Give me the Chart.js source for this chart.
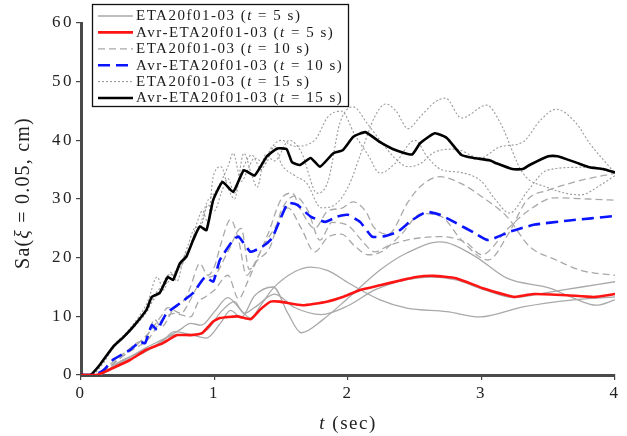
<!DOCTYPE html>
<html><head><meta charset="utf-8">
<script src="https://cdn.jsdelivr.net/npm/chart.js@4/dist/chart.umd.min.js"></script>
<style>html,body{margin:0;padding:0;background:#fff;}</style>
</head><body>
<canvas id="c" width="627" height="436"></canvas>
<script>
// ---- data (t in sec, Sa in cm) ----
const xTicks = [0, 1, 2, 3, 4];
const yTicks = [0, 10, 20, 30, 40, 50, 60];

// t = 5 s records (solid gray) and average (red)
const tS1 = [0,0.12,0.3,0.5,0.65,0.74,0.82,0.9,1.0,1.1,1.2,1.27,1.35,1.44,1.6,1.72,1.85,2.01,2.24,2.44,2.74,2.99,3.31,3.69,4.0];
const yS1 = [0,0,2.2,4.8,6.5,7.7,8.8,8.5,10.8,13.2,11,9.7,12,14.8,17.6,18.4,17.8,15.6,12.8,11.4,10.8,9.9,11.6,12.8,13.3];
const tS2 = [0,0.12,0.3,0.5,0.6,0.7,0.8,0.94,1.05,1.12,1.2,1.3,1.44,1.55,1.65,1.81,2.01,2.24,2.44,2.69,2.94,3.19,3.51,3.69,3.86,4.0];
const yS2 = [0,0,2.4,4.4,5.5,7.4,7,6.3,9,11,9.8,13.5,15,10.5,7.2,9.4,13.3,17.9,20.8,22.7,20.4,16.5,14.8,13.1,11.9,12.8];
const tS3 = [0,0.12,0.3,0.5,0.7,0.85,0.95,1.05,1.15,1.22,1.3,1.45,1.6,1.8,2.0,2.2,2.39,2.64,2.81,3.01,3.25,3.5,3.75,4.0];
const yS3 = [0,0,2,4.2,6.8,6.9,7.8,10.8,12.5,10.5,11.5,13.8,11.5,10.3,11.8,14.5,16,16.7,16.2,14.6,13.2,14.1,15,15.9];
const tAvg5 = [0,0.12,0.24,0.37,0.49,0.61,0.72,0.82,0.91,0.99,1.04,1.17,1.27,1.34,1.42,1.49,1.66,1.84,1.96,2.09,2.24,2.39,2.51,2.64,2.81,3.01,3.19,3.25,3.39,3.64,3.84,4.0];
const yAvg5 = [0,0,1.2,2.6,4.3,5.4,6.8,6.8,7.2,9.1,9.7,10.0,9.5,11.1,12.5,12.5,11.9,12.5,13.3,14.5,15.3,16.1,16.7,16.9,16.5,14.8,13.6,13.3,13.8,13.6,13.3,13.8];

// t = 10 s records (dashed gray) and average (blue)
const tD1 = [0,0.1,0.2,0.3,0.4,0.5,0.55,0.6,0.7,0.78,0.82,0.89,0.95,1.0,1.05,1.12,1.18,1.24,1.3,1.4,1.5,1.58,1.65,1.75,1.85,1.95,2.04,2.14,2.19,2.3,2.45,2.54,2.69,2.84,3.04,3.19,3.36,3.56,3.75,4.0];
const yD1 = [0,0,1.5,3.3,5.2,6.8,9.5,8.2,11.5,13,15,19,17,18.5,22.5,26.5,23,17,19,24,30,31,28,25,28,28.4,29.5,27.6,25.3,24,29.5,32.1,33.8,32.7,29.8,27,21.9,19.6,17.8,17];
const tD2 = [0,0.1,0.2,0.3,0.4,0.5,0.6,0.7,0.82,0.88,0.93,1.0,1.1,1.18,1.25,1.35,1.45,1.55,1.65,1.75,1.85,1.95,2.05,2.15,2.25,2.4,2.55,2.7,2.85,3.05,3.2,3.34,3.5,3.75,4.0];
const yD2 = [0,0,1,3,4.5,6,9.2,10.5,9.9,12.5,13.3,14.5,17,13,16,21.3,25,28.5,25,21,23.5,24,22,20.5,21,24,27.5,27,23,19.6,24,29.8,31.5,33.2,34.4];
const tD3 = [0,0.1,0.2,0.3,0.4,0.5,0.6,0.65,0.75,0.8,0.87,0.93,1.0,1.1,1.2,1.26,1.32,1.42,1.5,1.6,1.7,1.79,1.88,2.0,2.1,2.2,2.3,2.44,2.69,2.89,3.0,3.2,3.35,3.55,3.8,4.0];
const yD3 = [0,0,1.2,3,4.8,7,10,11.5,10.5,12,15,16.5,17,21,25,18,19.5,22,28,30.5,28,23,26,25.5,23,21,22,23,23.6,22.5,20.5,25,28,30.2,30,29.8];
const tAvg10 = [0,0.1,0.17,0.24,0.37,0.44,0.48,0.53,0.57,0.64,0.74,0.84,0.93,0.99,1.04,1.14,1.18,1.27,1.36,1.43,1.49,1.55,1.62,1.72,1.83,1.92,2.0,2.09,2.18,2.26,2.37,2.48,2.59,2.69,2.81,2.94,3.05,3.21,3.39,3.64,4.0];
const yAvg10 = [0,0,0.85,2.6,4.3,5.7,5.4,8.5,7.7,10.5,12.2,14,16.7,15.9,19.6,23,23.6,21,21.9,23.3,26.4,29.3,29,27,26.1,27,27.3,26.1,23.6,23.6,24.4,26.4,27.8,27.3,25.9,24.3,23,24.4,25.6,26.3,27.1];

// t = 15 s records (dotted gray) and average (black)
const tT1 = [0,0.08,0.15,0.25,0.35,0.45,0.5,0.57,0.62,0.67,0.72,0.77,0.82,0.87,0.91,0.95,0.99,1.05,1.1,1.15,1.22,1.28,1.32,1.38,1.45,1.56,1.65,1.77,1.85,1.94,2.04,2.14,2.24,2.35,2.45,2.54,2.65,2.8,2.99,3.14,3.31,3.44,3.56,3.71,3.81,4.0];
const yT1 = [0,0,2,5.2,7.5,10.5,12.5,16.7,14.5,17.5,16,20,22,26,28,26,33.8,35.5,32,30,37.8,34,32,37.5,36.5,40,38,31,33,43,45.7,43,40,37,35.5,36,38,38.5,37,38.9,39.7,43.4,45.3,42.9,39.5,34.4];
const tT2 = [0,0.08,0.15,0.25,0.35,0.45,0.5,0.55,0.6,0.65,0.7,0.75,0.8,0.85,0.9,0.94,1.0,1.05,1.1,1.14,1.2,1.25,1.3,1.38,1.45,1.5,1.6,1.69,1.8,1.9,2.0,2.1,2.2,2.28,2.36,2.45,2.54,2.65,2.73,2.85,3.04,3.14,3.31,3.49,3.74,3.9,4.0];
const yT2 = [0,0,1.5,4.8,7,9.5,11,13.5,15,15.8,17.5,18.5,21,24,26,29.3,31,33,35.5,37.8,33,35,37,36,39,36,34,32.7,28.5,29,32,38,44,46.2,45,42,44,46.5,47.2,43.8,46,43,34.4,32,30.7,32.5,34];
const tT3 = [0,0.08,0.15,0.25,0.35,0.45,0.5,0.55,0.6,0.65,0.7,0.75,0.8,0.85,0.9,0.95,1.0,1.05,1.1,1.15,1.2,1.28,1.35,1.42,1.5,1.6,1.75,1.85,1.95,2.05,2.15,2.24,2.35,2.5,2.6,2.7,2.85,3.0,3.1,3.21,3.35,3.49,3.75,4.0];
const yT3 = [0,0,1.8,5,7.2,10,11.5,13,14.8,17,17.2,19,22,25,25.5,29,28,31,33.5,31,34.5,37.5,35,38.5,40,39,40,44,45,41,37.5,34.4,36,40,37,35,34.5,33,30,27.6,31.5,34.9,35.4,34.6];
const tAvg15 = [0,0.07,0.14,0.24,0.32,0.39,0.49,0.53,0.59,0.65,0.69,0.74,0.79,0.84,0.89,0.94,0.99,1.06,1.14,1.22,1.30,1.39,1.47,1.54,1.58,1.64,1.72,1.79,1.89,1.96,2.04,2.13,2.24,2.36,2.48,2.54,2.65,2.74,2.85,2.94,3.06,3.11,3.23,3.31,3.36,3.50,3.57,3.71,3.81,3.91,4.0];
const yAvg15 = [0,0,1.7,4.8,6.5,8.2,11.1,13.3,14,16.7,16.2,19,20.2,23,25.3,24.7,29.8,32.9,31.2,34.9,34,37.2,38.6,38.5,36.3,35.8,37,35.5,37.8,38.3,40.6,41.4,39.7,38.3,37.6,39.5,41.2,40.4,37.5,37,36.6,36.1,35.1,35.1,35.8,37.3,37.3,36.2,35.4,35.1,34.5];

// legend text: [before italic, italic, after]
const legendText = [
  ["ETA20f01-03 (", "t", " = 5 s)"],
  ["Avr-ETA20f01-03 (", "t", " = 5 s)"],
  ["ETA20f01-03 (", "t", " = 10 s)"],
  ["Avr-ETA20f01-03 (", "t", " = 10 s)"],
  ["ETA20f01-03 (", "t", " = 15 s)"],
  ["Avr-ETA20f01-03 (", "t", " = 15 s)"]
];

// ---- styles ----
const pts = (t, y) => t.map((x, i) => ({x: x, y: y[i]}));
const GRAY_SOLID = {borderColor: '#a9a9a9', borderWidth: 1.3, borderDash: []};
const GRAY_DASH = {borderColor: '#a9a9a9', borderWidth: 1.3, borderDash: [7, 4]};
const GRAY_DOT = {borderColor: '#9a9a9a', borderWidth: 1.1, borderDash: [2, 2]};
const RED = {borderColor: '#ff1414', borderWidth: 2.6, borderDash: []};
const BLUE = {borderColor: '#0a14ff', borderWidth: 2.6, borderDash: [12, 6]};
const BLACK = {borderColor: '#000000', borderWidth: 2.6, borderDash: []};
const legendStyles = [GRAY_SOLID, RED, GRAY_DASH, BLUE, GRAY_DOT, BLACK];

function grayDs(t, y, st) {
  return Object.assign({data: pts(t, y), order: 2, tension: 0.35, cubicInterpolationMode: 'monotone'}, st);
}
function avgDs(t, y, st) {
  return Object.assign({data: pts(t, y), order: 1, tension: 0.15}, st);
}

const datasets = [
  grayDs(tS1, yS1, GRAY_SOLID), grayDs(tS2, yS2, GRAY_SOLID), grayDs(tS3, yS3, GRAY_SOLID),
  grayDs(tD1, yD1, GRAY_DASH), grayDs(tD2, yD2, GRAY_DASH), grayDs(tD3, yD3, GRAY_DASH),
  grayDs(tT1, yT1, GRAY_DOT), grayDs(tT2, yT2, GRAY_DOT), grayDs(tT3, yT3, GRAY_DOT),
  avgDs(tAvg5, yAvg5, RED), avgDs(tAvg10, yAvg10, BLUE), avgDs(tAvg15, yAvg15, BLACK)
];

const SERIF = '"Liberation Serif", "Times New Roman", serif';

function drawParts(ctx, parts, x, y, size, spacing, align) {
  const fonts = [size + 'px ' + SERIF, 'italic ' + size + 'px ' + SERIF, size + 'px ' + SERIF];
  ctx.letterSpacing = spacing + 'px';
  let widths = parts.map((p, i) => { ctx.font = fonts[i]; return ctx.measureText(p).width; });
  let total = widths.reduce((a, b) => a + b, 0);
  let cx = align === 'center' ? x - total / 2 : x;
  ctx.textAlign = 'left';
  parts.forEach((p, i) => { ctx.font = fonts[i]; ctx.fillText(p, cx, y); cx += widths[i]; });
}

const decor = {
  id: 'decor',
  beforeDraw(chart) { chart.ctx.letterSpacing = '2.5px'; },
  afterDraw(chart) {
    const ctx = chart.ctx;
    ctx.save();
    ctx.fillStyle = '#222';
    ctx.textBaseline = 'middle';
    // x title
    drawParts(ctx, ['', 't', ' (sec)'], (chart.chartArea.left + chart.chartArea.right) / 2, 424, 19, 1.5, 'center');
    // y title
    ctx.save();
    ctx.translate(24, 193);
    ctx.rotate(-Math.PI / 2);
    drawParts(ctx, ['Sa(', 'ξ', ' = 0.05, cm)'], 0, 0, 20, 1.2, 'center');
    ctx.restore();
    // legend box
    const bx = 92.5, by = 4.5, bw = 256, bh = 102;
    ctx.fillStyle = '#fff';
    ctx.fillRect(bx, by, bw, bh);
    ctx.strokeStyle = '#111';
    ctx.lineWidth = 1.3;
    ctx.setLineDash([]);
    ctx.strokeRect(bx, by, bw, bh);
    legendText.forEach((parts, i) => {
      const yy = by + 11.5 + i * 16.4;
      const st = legendStyles[i];
      ctx.strokeStyle = st.borderColor;
      ctx.lineWidth = st.borderWidth;
      ctx.setLineDash(st.borderDash);
      ctx.beginPath(); ctx.moveTo(98, yy); ctx.lineTo(133, yy); ctx.stroke();
      ctx.setLineDash([]);
      ctx.fillStyle = '#1a1a1a';
      drawParts(ctx, parts, 136, yy + 0.5, 15, 1.5, 'left');
    });
    ctx.restore();
    ctx.letterSpacing = '0px';
  }
};

new Chart(document.getElementById('c'), {
  type: 'line',
  data: {datasets: datasets},
  options: {
    responsive: false,
    devicePixelRatio: 1,
    animation: false,
    events: [],
    layout: {padding: {left: 0, top: 23, right: 12, bottom: 0}},
    elements: {point: {radius: 0}, line: {borderCapStyle: 'butt', borderJoinStyle: 'round'}},
    plugins: {legend: {display: false}, tooltip: {enabled: false}, title: {display: false}},
    scales: {
      x: {
        type: 'linear', min: 0, max: 4,
        afterBuildTicks: s => { s.ticks = xTicks.map(v => ({value: v})); },
        afterFit: s => { s.height = 61; },
        ticks: {color: '#222', font: {family: SERIF, size: 17}, padding: 3, maxRotation: 0},
        grid: {drawOnChartArea: false, drawTicks: true, tickLength: 5, color: '#444', lineWidth: 1.2},
        border: {display: true, color: '#4a4a4a', width: 3}
      },
      y: {
        type: 'linear', min: 0, max: 60,
        afterBuildTicks: s => { s.ticks = yTicks.map(v => ({value: v})); },
        afterFit: s => { s.width = 81; },
        ticks: {color: '#222', font: {family: SERIF, size: 17}, padding: 2},
        grid: {drawOnChartArea: false, drawTicks: true, tickLength: 5, color: '#444', lineWidth: 1.2},
        border: {display: true, color: '#4a4a4a', width: 3}
      }
    }
  },
  plugins: [decor]
});
</script>
</body></html>
